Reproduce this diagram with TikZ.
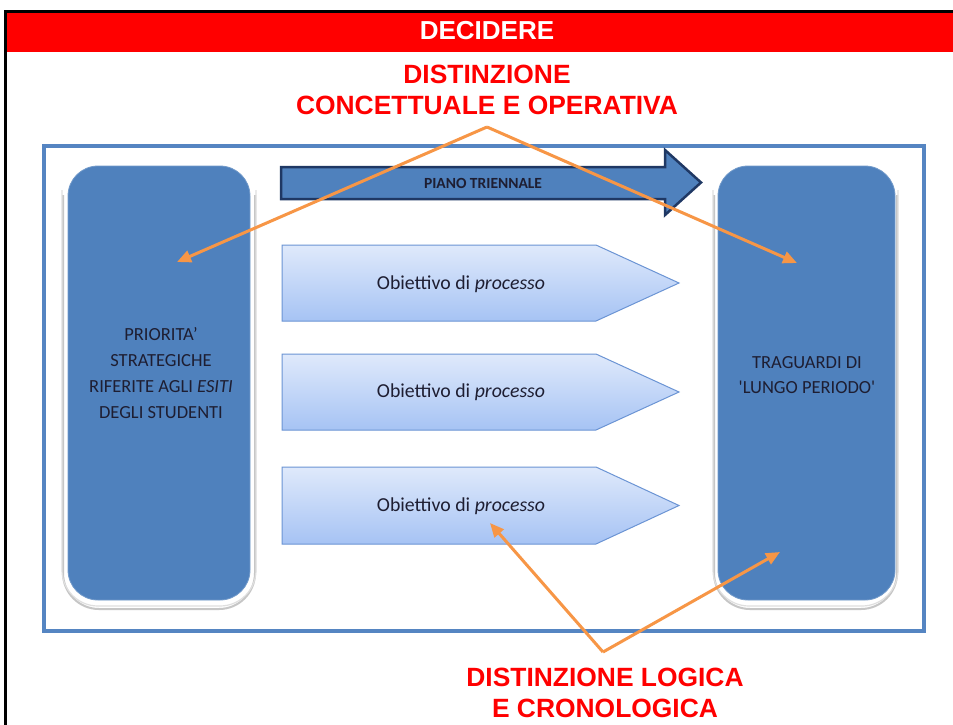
\documentclass[tikz,border=0pt]{standalone}
\usepackage{fontspec}
\setmainfont{Carlito}
\newfontfamily\boxfont{Carlito}
\newfontfamily\titlefont{Liberation Sans}
\usetikzlibrary{arrows.meta}
\definecolor{bandred}{HTML}{FF0000}
\definecolor{boxblue}{HTML}{4F81BD}
\definecolor{framblue}{HTML}{5585C2}
\definecolor{navy}{HTML}{1F3864}
\definecolor{callout}{HTML}{F79646}
\definecolor{pentline}{HTML}{6B94D4}
\definecolor{penttop}{HTML}{DFE9FB}
\definecolor{pentbot}{HTML}{A6C3F4}
\definecolor{inktext}{HTML}{1E1E32}
\tikzset{
  whitetitle/.style={text=white, font=\titlefont\bfseries\fontsize{26}{31}\selectfont, inner sep=0},
  redtitle/.style={text=bandred, font=\titlefont\bfseries\fontsize{26.4}{31}\selectfont, align=center, inner sep=0},
  framestyle/.style={draw=framblue, line width=4},
  bigbox/.style={fill=boxblue, draw=boxblue!80!white, line width=0.8, rounded corners=30, inner sep=0},
  boxrim/.style={draw=gray!25, line width=1.2, rounded corners=36},
  boxshadow/.style={draw=gray!45, line width=2, rounded corners=36},
  boxtext/.style={text=inktext, font=\boxfont\fontsize{18.5}{25.8}\selectfont, align=center, inner sep=0},
  pent/.style={draw=pentline, line width=1, top color=penttop, bottom color=pentbot},
  pentlabel/.style={text=inktext, font=\boxfont\fontsize{19.8}{22}\selectfont, inner sep=0},
  pianoarrow/.style={fill=boxblue, draw=navy, line width=2.5, line join=miter},
  pianotext/.style={text=inktext, font=\boxfont\bfseries\fontsize{15.5}{17}\selectfont, inner sep=0},
  callarrow/.style={draw=callout, line width=3, -{Triangle[length=14,width=12]}}
}
\begin{document}
\begin{tikzpicture}[x=1pt,y=-1pt]
\useasboundingbox (0,0) rectangle (953,724);
\clip (0,0) rectangle (953,724);
\fill[white] (0,0) rectangle (953,724);
% outer black frame and red band
\draw[line width=3] (5.5,11) rectangle (1000,1000);
\fill[bandred] (7,12.5) rectangle (953,52);
\node[whitetitle] (decidere) at (487,31) {DECIDERE};
\node[redtitle] (conc) at (487,89.5) {DISTINZIONE\\CONCETTUALE E OPERATIVA};

% blue frame
\draw[framestyle] (44,146) rectangle (924,631);

% box rims / shadows
\draw[boxshadow] (63,195) -- (63,609) -- (255,609) -- (255,195);
\draw[boxrim] (62,190) -- (62,606) -- (256,606) -- (256,190);
\draw[boxshadow] (714,195) -- (714,609) -- (897,609) -- (897,195);
\draw[boxrim] (713,190) -- (713,606) -- (898,606) -- (898,190);

% big boxes
\node[bigbox, minimum width=182, minimum height=434] (prio) at (159,383) {};
\node[boxtext] (priotext) at (161,373) {PRIORITA’\\STRATEGICHE\\RIFERITE AGLI \textit{ESITI}\\DEGLI STUDENTI};
\node[bigbox, minimum width=177, minimum height=434] (trag) at (806.5,383) {};
\node[boxtext] (tragtext) at (807,375) {TRAGUARDI DI\\'LUNGO PERIODO'};

% piano triennale arrow
\draw[pianoarrow] (281,167) -- (665,167) -- (665,150) -- (701,182.5) -- (665,215) -- (665,199) -- (281,199) -- cycle;
\node[pianotext] (piano) at (483,183) {PIANO TRIENNALE};

% pentagons
\path[pent] (282,245) -- (596,245) -- (679,283) -- (596,321) -- (282,321) -- cycle;
\node[pentlabel] (obj1) at (461,284) {Obiettivo di \textit{processo}};
\path[pent] (282,354) -- (596,354) -- (679,392) -- (596,430) -- (282,430) -- cycle;
\node[pentlabel] (obj2) at (461,392) {Obiettivo di \textit{processo}};
\path[pent] (282,467) -- (596,467) -- (679,505.5) -- (596,544) -- (282,544) -- cycle;
\node[pentlabel] (obj3) at (461,506) {Obiettivo di \textit{processo}};

% bottom title
\node[redtitle] (logica) at (605,693) {DISTINZIONE LOGICA\\E CRONOLOGICA};

% callout arrows
\coordinate (apexTop) at (487,127);
\coordinate (tipPrio) at (177,262);
\coordinate (tipTrag) at (797,263);
\draw[callarrow] (apexTop) -- (tipPrio);
\draw[callarrow] (apexTop) -- (tipTrag);
\coordinate (apexBot) at (603,652);
\coordinate (tipObj) at (490,523);
\coordinate (tipTragB) at (780,552);
\draw[callarrow] (apexBot) -- (tipObj);
\draw[callarrow] (apexBot) -- (tipTragB);
\end{tikzpicture}
\end{document}
